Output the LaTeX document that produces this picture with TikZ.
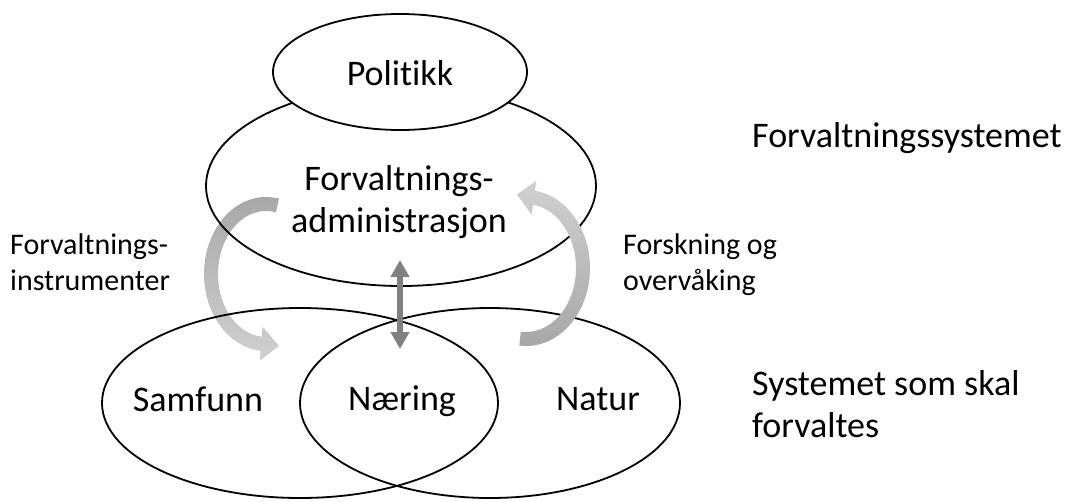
\documentclass[tikz,border=0pt]{standalone}
\usepackage{fontspec}
\setmainfont{Carlito}[Ligatures=NoCommon]
\usetikzlibrary{shapes.geometric,arrows.meta,calc}
\definecolor{arrdark}{HTML}{A6A6A6}
\definecolor{arrmid}{HTML}{BDBDBD}
\definecolor{arrlight}{HTML}{D0D0D0}
\definecolor{dblgray}{HTML}{808080}
\begin{document}
\begin{tikzpicture}[x=1pt,y=-1pt,
  ell/.style={ellipse,draw=black,line width=1.8pt,inner sep=0pt},
  bigtext/.style={font=\fontsize{36}{43}\selectfont,inner sep=0pt},
  smalltext/.style={font=\fontsize{30}{36.5}\selectfont,inner sep=0pt},
  leftshade/.style={top color=arrdark,middle color=arrmid,bottom color=arrlight},
  rightshade/.style={top color=arrlight,middle color=arrmid,bottom color=arrdark},
  dblarrow/.style={draw=dblgray,line width=5.5pt,{Triangle[length=17pt,width=18pt]}-{Triangle[length=17pt,width=18pt]}}
]
\useasboundingbox (0,0) rectangle (1071,501);

% left curved arrow (behind ellipse lines)
\coordinate (L) at (266,274);
\path[leftshade]
  ($(L)+(-78:62 and 77)$) arc[start angle=-78, end angle=-265, x radius=62, y radius=77]
  -- ($(L)+(-265:72 and 87)$) -- (279,346) -- ($(L)+(-265:38 and 53)$)
  -- ($(L)+(-265:48 and 63)$) arc[start angle=-265, end angle=-78, x radius=48, y radius=63]
  -- cycle;

% ellipses
\node[ell, minimum width=390pt, minimum height=200pt] (adm) at (401,186) {};
\node[ell, fill=white, minimum width=254pt, minimum height=116pt] (pol) at (400,72) {};
\node[ell, minimum width=396pt, minimum height=190pt] (samf) at (300,403) {};
\node[ell, minimum width=380pt, minimum height=190pt] (natur) at (490,403) {};

% right curved arrow (in front)
\coordinate (R) at (526,268);
\path[rightshade]
  ($(R)+(96:64 and 78)$) arc[start angle=96, end angle=-82, x radius=64, y radius=78]
  -- ($(R)+(-82:74 and 88)$) -- (517,194.5) -- ($(R)+(-82:40 and 54)$)
  -- ($(R)+(-82:50 and 64)$) arc[start angle=-82, end angle=96, x radius=50, y radius=64]
  -- cycle;

% double arrow
\coordinate (dtop) at (400,260);
\coordinate (dbot) at (400,349);
\draw[dblarrow] (dtop) -- (dbot);

% texts
\node[bigtext, anchor=base] (tpol) at (400,85) {Polit\kern0pt ikk};
\node[bigtext, anchor=base] (tadm1) at (399,190) {Forvaltnings-};
\node[bigtext, anchor=base] (tadm2) at (399,232) {administrasjon};
\node[bigtext, anchor=base] (tsamf) at (198,411) {Samfunn};
\node[bigtext, anchor=base] (tnaer) at (402,410) {Næring};
\node[bigtext, anchor=base] (tnat) at (598,410) {Natur};
\node[smalltext, anchor=base west] (tinst1) at (10,254) {Forvaltnings-};
\node[smalltext, anchor=base west] (tinst2) at (10,290.5) {instrumenter};
\node[smalltext, anchor=base west] (tfor1) at (623,254) {Forskning og};
\node[smalltext, anchor=base west] (tfor2) at (623,290) {overvåking};
\node[bigtext, anchor=base west] (tfs) at (752,147) {Forvaltningssystemet};
\node[bigtext, anchor=base west] (tsys1) at (752,395) {Systemet som skal};
\node[bigtext, anchor=base west] (tsys2) at (752,437) {forvaltes};
\end{tikzpicture}
\end{document}
